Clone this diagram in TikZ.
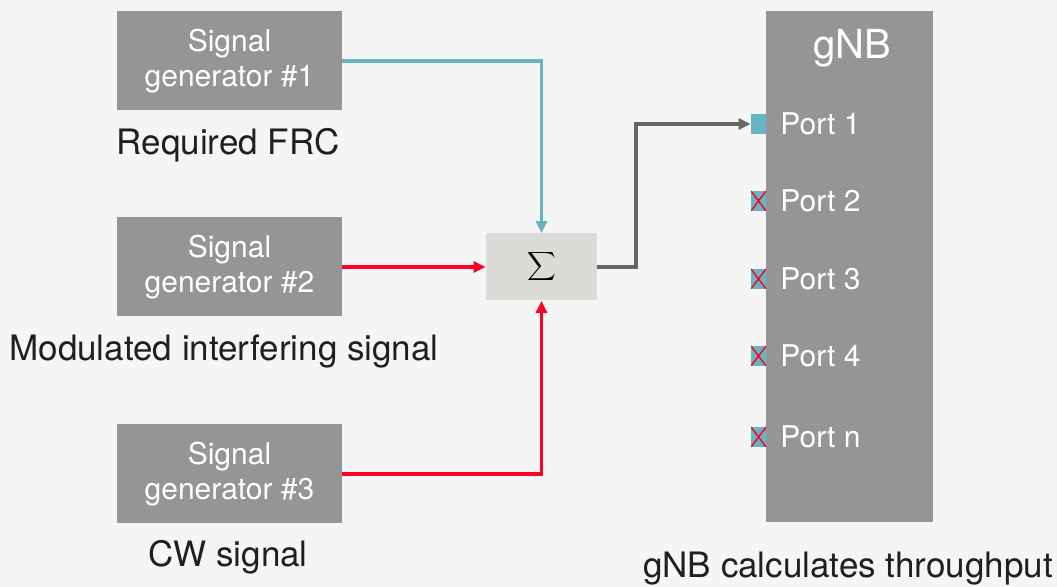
\documentclass[tikz,border=0pt]{standalone}
\usepackage{fontspec}
\setmainfont{TeX Gyre Heros}
\usetikzlibrary{arrows.meta,positioning,calc}
\definecolor{bggray}{HTML}{F5F5F5}
\definecolor{boxgray}{HTML}{959597}
\definecolor{sumgray}{HTML}{DBDBD7}
\definecolor{portteal}{HTML}{66B3C1}
\definecolor{sigred}{HTML}{FF0022}
\definecolor{linegray}{HTML}{666666}

\begin{document}
\begin{tikzpicture}[x=0.5pt, y=-0.5pt,
    gen/.style={rectangle, fill=boxgray, text=white, align=center,
        minimum width=112.5pt, minimum height=49.5pt, inner sep=0pt,
        font=\fontsize{15}{17.5}\selectfont},
    caption/.style={font=\fontsize{17.5}{20}\selectfont, text=black!88, inner sep=0pt},
    sumbox/.style={rectangle, fill=sumgray, minimum width=55.5pt,
        minimum height=33.5pt, inner sep=0pt, font=\fontsize{14}{16}\selectfont},
    port/.style={rectangle, fill=portteal, minimum width=7.5pt,
        minimum height=10pt, inner sep=0pt},
    dead/.style={port, path picture={
        \draw[sigred, line width=0.7pt] (path picture bounding box.north west) -- (path picture bounding box.south east)
            (path picture bounding box.north east) -- (path picture bounding box.south west);}},
    plab/.style={anchor=west, text=white, inner sep=0pt, font=\fontsize{15}{17}\selectfont},
    arr/.style={-{Triangle[length=6pt, width=5.5pt]}, line width=1.6pt}
]
    % Background
    \fill[bggray] (0,0) rectangle (1057,587);
    \useasboundingbox (0,0) rectangle (1057,587);

    % Signal generators
    \node[gen] (G1) at (229.5,61) {Signal\\generator \#1};
    \node[gen] (G2) at (229.5,267) {Signal\\generator \#2};
    \node[gen] (G3) at (229.5,474) {Signal\\generator \#3};
    \node[caption] (C1) at (228,145) {Required FRC};
    \node[caption] (C2) at (224,352) {Modulated interfering signal};
    \node[caption] (C3) at (228,557) {CW signal};

    % Summation
    \node[sumbox] (S) at (541.5,267) {$\displaystyle\sum$};

    % gNB
    \node[rectangle, fill=boxgray, minimum width=83.5pt, minimum height=255.5pt,
        inner sep=0pt] (B) at (849.5,266.5) {};
    \node[text=white, inner sep=0pt, font=\fontsize{20}{22}\selectfont] (BT) at (852,48) {gNB};
    \node[caption] (C4) at (848,569) {gNB calculates throughput};

    % Ports
    \node[port] (P1) at (758.5,124) {};
    \node[dead] (P2) at (758.5,201) {};
    \node[dead] (P3) at (758.5,279) {};
    \node[dead] (P4) at (758.5,356) {};
    \node[dead] (P5) at (758.5,437) {};
    \node[plab] at (780,124) {Port 1};
    \node[plab] at (780,201) {Port 2};
    \node[plab] at (780,279) {Port 3};
    \node[plab] at (780,356) {Port 4};
    \node[plab] at (780,437) {Port n};

    % Connectors
    \coordinate (K) at (636,124);
    \draw[arr, portteal] (G1.east) -| (S.north);
    \draw[arr, sigred] (G2.east) -- (S.west);
    \draw[arr, sigred] (G3.east) -| (S.south);
    \draw[arr, linegray] (S.east) -| (K) -- (P1.west);
\end{tikzpicture}
\end{document}
